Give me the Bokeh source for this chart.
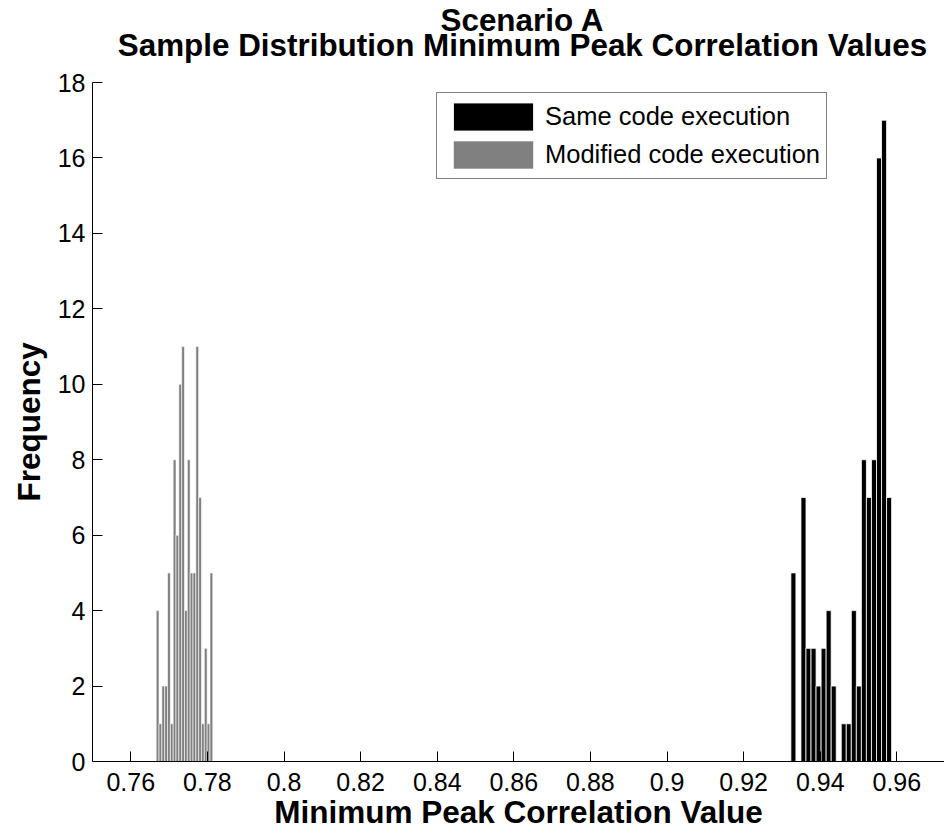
from bokeh.plotting import figure
from bokeh.models import FixedTicker, Legend, LegendItem, Label, Title
from bokeh.embed import file_html
from bokeh.resources import INLINE

# ---- data ----
same_centers = [0.93300, 0.93431, 0.93563, 0.93694, 0.93826, 0.93957, 0.94089, 0.94220,
                0.94352, 0.94483, 0.94615, 0.94746, 0.94878, 0.95009, 0.95141, 0.95272,
                0.95404, 0.95535, 0.95667, 0.95798]
same_counts = [5, 0, 7, 3, 3, 2, 3, 4, 2, 0, 1, 1, 4, 2, 8, 7, 8, 16, 17, 7]
same_width = 0.001315

mod_centers = [0.76700, 0.76774, 0.76848, 0.76922, 0.76996, 0.77070, 0.77143, 0.77217,
               0.77291, 0.77365, 0.77439, 0.77513, 0.77587, 0.77661, 0.77735, 0.77809,
               0.77882, 0.77956, 0.78030, 0.78104]
mod_counts = [4, 1, 2, 2, 5, 1, 8, 6, 10, 11, 4, 8, 5, 5, 11, 7, 1, 3, 1, 5]
mod_width = 0.000739

x_ticks = [0.76, 0.78, 0.8, 0.82, 0.84, 0.86, 0.88, 0.9, 0.92, 0.94, 0.96]
x_tick_labels = ["0.76", "0.78", "0.8", "0.82", "0.84", "0.86", "0.88", "0.9", "0.92", "0.94", "0.96"]
y_ticks = [0, 2, 4, 6, 8, 10, 12, 14, 16, 18]

series_labels = ["Same code execution", "Modified code execution"]
title_lines = ["Scenario A", "Sample Distribution Minimum Peak Correlation Values"]
x_label = "Minimum Peak Correlation Value"
y_label = "Frequency"

FONT = "Liberation Sans"

# ---- layout (pixels) ----
W, H = 944, 835
LEFT, BOTTOM = 92, 74          # frame spans x 92..944, y 0..761 (canvas)
AX_TOP_PX = 82                 # where the y axis (value 18) ends
X0, X1 = 0.75, 0.97245
Y0, YMAX = 0, 18
frame_h = H - BOTTOM
units_per_px = (YMAX - Y0) / (frame_h - AX_TOP_PX)
Y1 = YMAX + AX_TOP_PX * units_per_px   # extra room above the axes for the title

p = figure(width=W, height=H, x_range=(X0, X1), y_range=(Y0, Y1),
           output_backend="svg", toolbar_location=None,
           min_border_left=LEFT, min_border_right=0, min_border_top=0, min_border_bottom=BOTTOM)
p.outline_line_color = None
p.grid.visible = False
p.background_fill_color = "white"
p.border_fill_color = "white"

r1 = p.vbar(x=same_centers, width=same_width, top=same_counts, bottom=0,
            fill_color="black", line_color="white", line_width=0.8)
r2 = p.vbar(x=mod_centers, width=mod_width, top=mod_counts, bottom=0,
            fill_color="#808080", line_color="white", line_width=0.6)

# axes
for ax in (p.xaxis[0], p.yaxis[0]):
    ax.major_tick_in = 10
    ax.major_tick_out = 0
    ax.minor_tick_line_color = None
    ax.axis_line_color = "black"
    ax.major_tick_line_color = "black"
    ax.major_label_text_font = FONT
    ax.major_label_text_font_size = "25px"
    ax.major_label_text_color = "black"
    ax.axis_label_text_font = FONT
    ax.axis_label_text_font_size = "31.5px"
    ax.axis_label_text_font_style = "bold"
    ax.axis_label_text_color = "black"

p.xaxis.ticker = FixedTicker(ticks=x_ticks)
p.xaxis.major_label_overrides = {t: l for t, l in zip(x_ticks, x_tick_labels)}
p.xaxis.major_label_standoff = 11
p.xaxis.axis_label = x_label
p.xaxis.axis_label_standoff = 0

p.yaxis.ticker = FixedTicker(ticks=y_ticks)
p.yaxis.bounds = (Y0, YMAX)
p.yaxis.major_label_standoff = 7

# y-axis label, centred on the 0..18 axis (not on the taller frame)
ylab_len_px = 159
ylab_offset = int(round((frame_h - AX_TOP_PX) / 2 - ylab_len_px / 2))
p.add_layout(Title(text=y_label, align="left", vertical_align="bottom", offset=ylab_offset,
                   standoff=16, text_font=FONT, text_font_size="31.5px",
                   text_font_style="bold", text_color="black"), "left")

# two-line title, centred over the axes
title_cx = X0 + (522 - LEFT) / (W - LEFT) * (X1 - X0)
for line, baseline_px in zip(title_lines, [20, 45]):
    p.add_layout(Label(x=title_cx, y=YMAX + (AX_TOP_PX - baseline_px) * units_per_px,
                       text=line, text_align="center", text_baseline="alphabetic",
                       text_font=FONT, text_font_size="31.4px", text_font_style="bold",
                       text_color="black"))

# legend
legend = Legend(items=[LegendItem(label=series_labels[0], renderers=[r1]),
                       LegendItem(label=series_labels[1], renderers=[r2])],
                location=(344, 582), orientation="vertical",
                label_text_font=FONT, label_text_font_size="25.5px", label_text_color="black",
                glyph_width=100, glyph_height=35, spacing=3, padding=6,
                label_standoff=2, margin=0,
                border_line_color="black", border_line_width=1,
                background_fill_color="white", background_fill_alpha=1.0)
p.add_layout(legend)

open("out.html", "w").write(file_html(p, INLINE))
